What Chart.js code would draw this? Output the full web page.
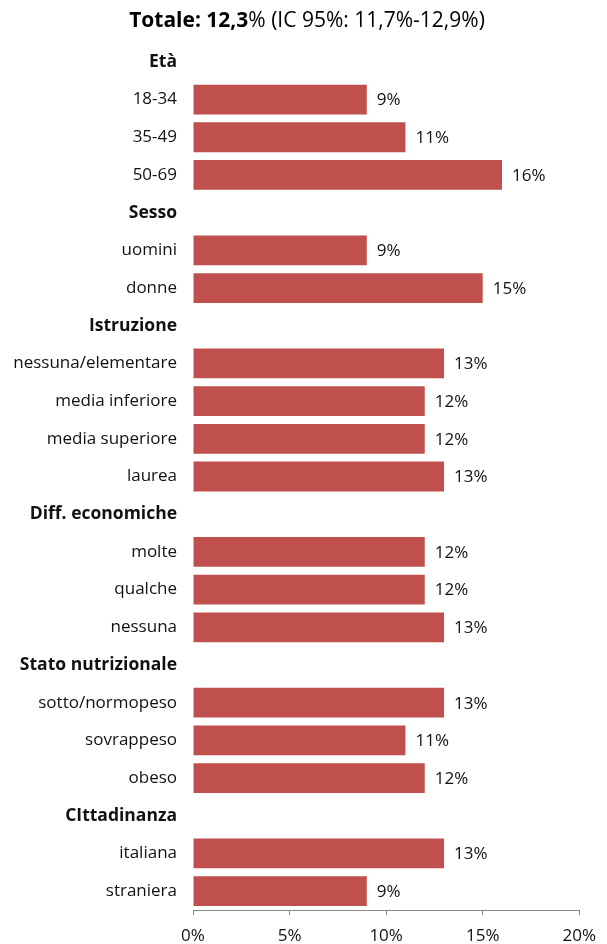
<!DOCTYPE html>
<html>
<head>
<meta charset="utf-8">
<script src="https://cdn.jsdelivr.net/npm/chart.js@4"></script>
<style>
  body { margin: 0; background: #fff; }
  #wrap { position: relative; width: 607px; height: 944px; }
  #title {
    position: absolute; left: 0; top: 5px; width: 614px; text-align: center;
    font-family: "Open Sans", sans-serif; font-size: 21px; color: #000;
  }
  #title b { font-weight: 700; }
</style>
</head>
<body>
<div id="wrap">
  <div id="title"><b>Totale: 12,3</b>% (IC 95%: 11,7%-12,9%)</div>
  <canvas id="chart" width="607" height="944"></canvas>
</div>
<script>
const labels = ['Età', '18-34', '35-49', '50-69',
    'Sesso', 'uomini', 'donne',
    'Istruzione', 'nessuna/elementare', 'media inferiore', 'media superiore', 'laurea',
    'Diff. economiche', 'molte', 'qualche', 'nessuna',
    'Stato nutrizionale', 'sotto/normopeso', 'sovrappeso', 'obeso',
    'CIttadinanza', 'italiana', 'straniera']
const headers = ['Età', 'Sesso', 'Istruzione', 'Diff. economiche', 'Stato nutrizionale', 'CIttadinanza']
const values = [null, 9, 11, 16,
    null, 9, 15,
    null, 13, 12, 12, 13,
    null, 12, 12, 13,
    null, 13, 11, 12,
    null, 13, 9]
const xTicks = [0, 5, 10, 15, 20]

const FONT = '"Open Sans", sans-serif'

// write the percentage after each bar
const valueLabels = {
    id: 'valueLabels',
    afterDatasetsDraw(chart) {
        const ctx = chart.ctx
        const meta = chart.getDatasetMeta(0)
        ctx.save()
        ctx.font = '17px ' + FONT
        ctx.fillStyle = '#111'
        ctx.textBaseline = 'middle'
        meta.data.forEach((bar, i) => {
            if (values[i] == null) return
            ctx.fillText(values[i] + '%', bar.x + 10, bar.y + 1)
        })
        ctx.restore()
    }
}

const ctx = document.getElementById('chart').getContext('2d')
const myChart = new Chart(ctx, {
    type: 'bar',
    data: {
        labels: labels,
        datasets: [{
            data: values,
            backgroundColor: '#C0504D',
            borderWidth: 0,
            barPercentage: 0.79,
            categoryPercentage: 1
        }]
    },
    options: {
        indexAxis: 'y',
        responsive: false,
        animation: false,
        layout: { padding: { top: 43, right: 27, bottom: 0, left: 0 } },
        plugins: { legend: { display: false }, tooltip: { enabled: false } },
        scales: {
            x: {
                min: 0, max: 20,
                afterFit(scale) { scale.height = 34 },
                afterBuildTicks(scale) { scale.ticks = xTicks.map(v => ({ value: v })) },
                grid: { drawOnChartArea: false, drawTicks: true, tickLength: 5, color: '#888' },
                border: { display: true, color: '#888' },
                ticks: {
                    padding: 11,
                    color: '#111',
                    font: { family: FONT, size: 17 },
                    callback: v => v + '%'
                }
            },
            y: {
                afterFit(scale) { scale.width = 193 },
                grid: { display: false },
                border: { display: false },
                ticks: {
                    padding: 8,
                    color: '#111',
                    font: ctx => headers.includes(labels[ctx.index])
                        ? { family: FONT, size: 17.5, weight: 'bold' }
                        : { family: FONT, size: 17 }
                }
            }
        }
    },
    plugins: [valueLabels]
})
</script>
</body>
</html>
